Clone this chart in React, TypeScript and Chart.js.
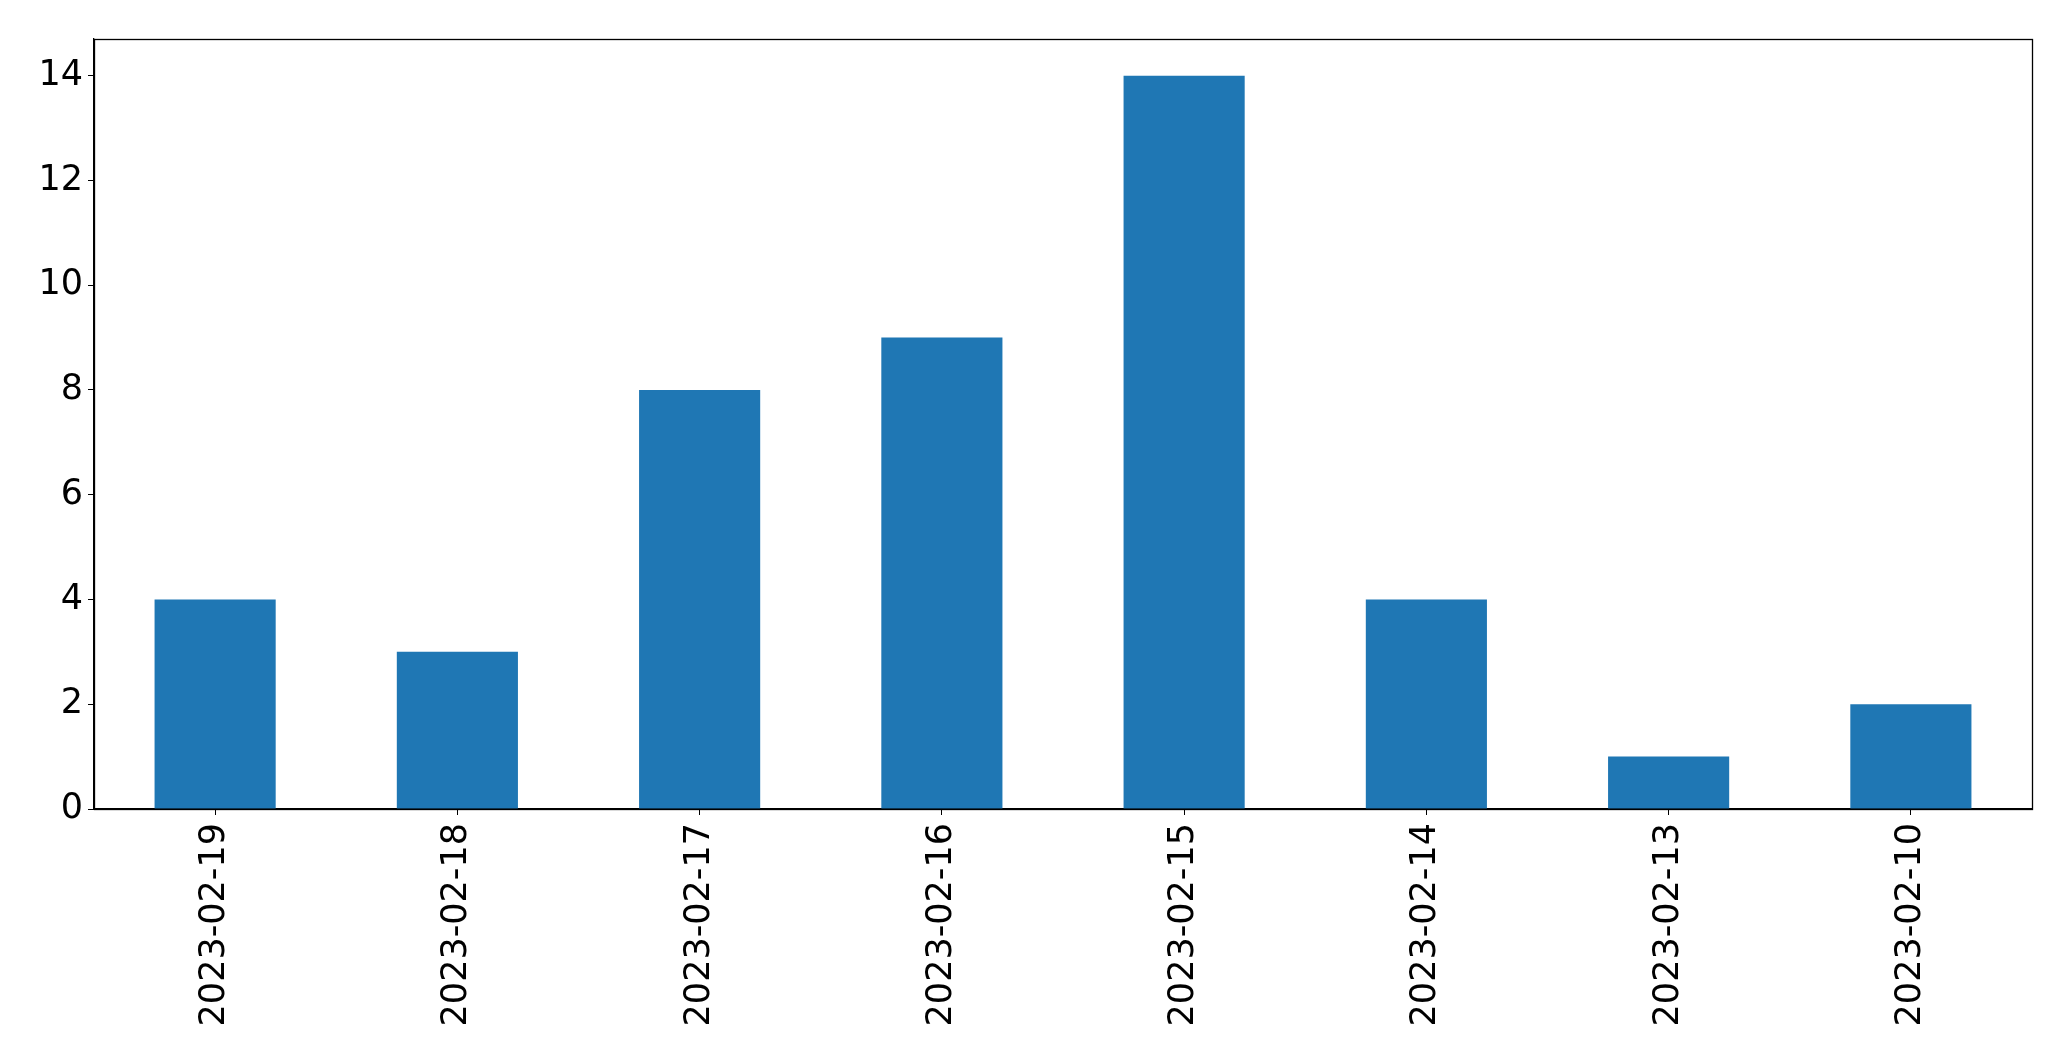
import React, { useEffect, useRef } from "react";
import { Chart, registerables } from "chart.js";

Chart.register(...registerables);

const categories = [
  "2023-02-19",
  "2023-02-18",
  "2023-02-17",
  "2023-02-16",
  "2023-02-15",
  "2023-02-14",
  "2023-02-13",
  "2023-02-10",
];
const counts = [4, 3, 8, 9, 14, 4, 1, 2];
const yTicks = [0, 2, 4, 6, 8, 10, 12, 14];

const framePlugin = {
  id: "frame",
  afterDraw(chart: any) {
    const { ctx, chartArea } = chart;
    ctx.save();
    ctx.strokeStyle = "#000";
    ctx.lineWidth = 1.3;
    ctx.strokeRect(
      Math.round(chartArea.left) + 0.5,
      Math.round(chartArea.top) + 0.5,
      Math.round(chartArea.right - chartArea.left),
      Math.round(chartArea.bottom - chartArea.top)
    );
    ctx.restore();
  },
};

export default function App() {
  const ref = useRef<HTMLCanvasElement>(null);
  useEffect(() => {
    if (!ref.current) return;
    const font = { family: "DejaVu Sans", size: 35 };
    const chart = new Chart(ref.current, {
      type: "bar",
      data: {
        labels: categories,
        datasets: [
          {
            data: counts,
            backgroundColor: "#1f77b4",
            barPercentage: 0.5,
            categoryPercentage: 1,
          },
        ],
      },
      options: {
        animation: false,
        responsive: false,
        maintainAspectRatio: false,
        layout: { padding: { top: 39, right: 39, left: 0, bottom: 0 } },
        plugins: { legend: { display: false }, tooltip: { enabled: false } },
        scales: {
          x: {
            offset: true,
            grid: {
              display: true,
              drawOnChartArea: false,
              drawTicks: true,
              tickLength: 6,
              color: "#000",
              offset: false,
            },
            border: { display: true, color: "#000", width: 1.3 },
            ticks: {
              color: "#000",
              font,
              maxRotation: 90,
              minRotation: 90,
              padding: 8,
              autoSkip: false,
            },
            afterFit(scale: any) {
              scale.height = 252;
            },
          },
          y: {
            min: 0,
            max: 14.7,
            grid: {
              display: true,
              drawOnChartArea: false,
              drawTicks: true,
              tickLength: 6,
              color: "#000",
            },
            border: { display: true, color: "#000", width: 1.3 },
            ticks: {
              color: "#000",
              font,
              stepSize: 2,
              includeBounds: false,
              padding: 5,
            },
            afterBuildTicks(scale: any) {
              scale.ticks = yTicks.map((v) => ({ value: v }));
            },
            afterFit(scale: any) {
              scale.width = 94;
            },
          },
        },
      },
      plugins: [framePlugin],
    });
    return () => chart.destroy();
  }, []);
  return (
    <div style={{ position: "absolute", left: 0, top: 0, width: 2071, height: 1061, background: "#fff" }}>
      <canvas ref={ref} width={2071} height={1061} style={{ display: "block" }} />
    </div>
  );
}
